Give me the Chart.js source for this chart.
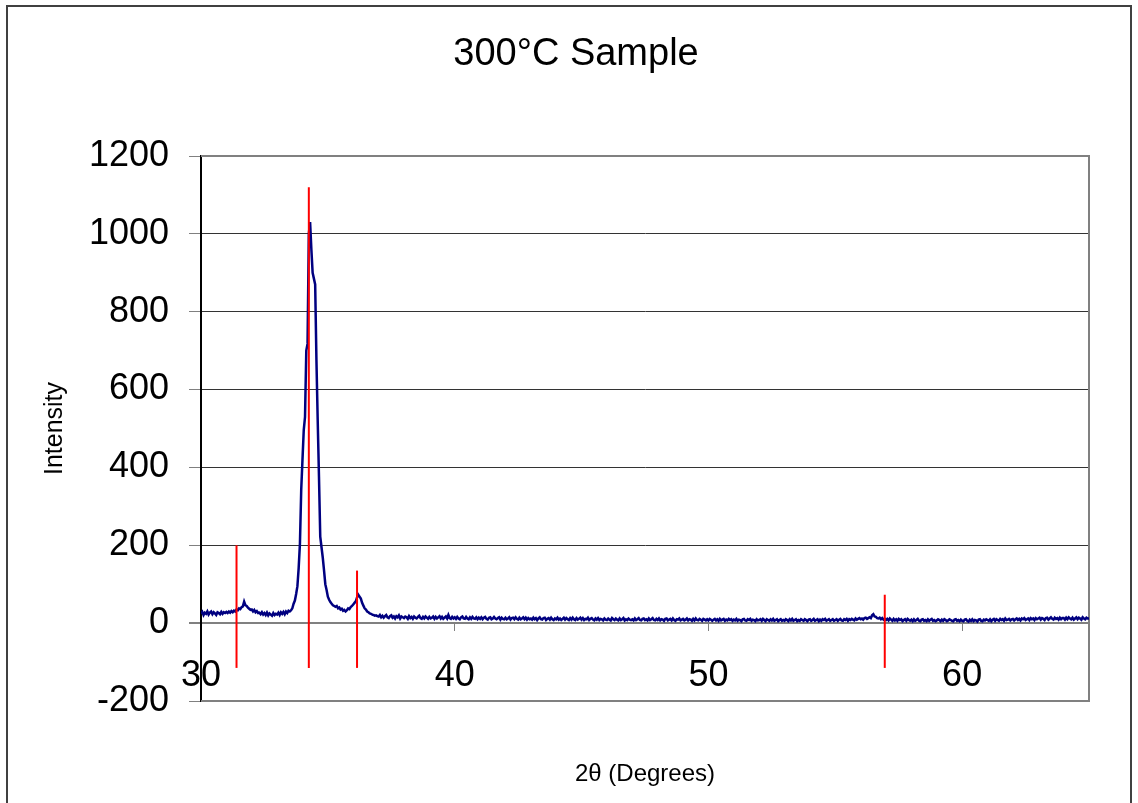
<!DOCTYPE html>
<html>
<head>
<meta charset="utf-8">
<title>300°C Sample</title>
<script src="https://cdn.jsdelivr.net/npm/chart.js@4.4.1/dist/chart.umd.min.js"></script>
<style>
  html, body { margin: 0; padding: 0; background: #fff; }
  #wrap { width: 1138px; height: 803px; }
</style>
</head>
<body>
<div id="wrap"><canvas id="xrd" width="1138" height="803"></canvas></div>
<script>
/* ---------- scan data: counts every 0.05 deg, 30.00 .. 65.00 ---------- */
const scanStart = 30;
const scanStep  = 0.05;
const counts = [
  24,29,21,27,24,30,22,27,30,23,28,25,21,28,26,23,29,24,28,26,            // 30
  29,26,30,27,31,28,32,30,35,33,38,36,41,43,55,46,44,40,37,34,            // 31
  35,30,34,28,31,26,27,23,28,22,26,21,27,20,25,22,19,26,21,24,            // 32
  22,27,21,28,24,29,23,30,26,32,30,33,38,50,58,75,95,142,205,342,         // 33
  420,496,530,700,718,1000,1030,960,900,885,870,675,520,376,222,195,168,135,100,85, // 34
  68,60,54,50,46,44,42,44,38,40,35,37,32,34,30,33,38,36,41,44,            // 35
  48,52,56,66,73,68,63,52,45,38,35,30,28,25,24,22,21,19,20,18,            // 36
  17,21,15,19,14,18,21,15,13,18,20,14,17,12,18,15,20,12,17,15,            // 37
  13,17,15,11,18,13,16,11,17,14,12,16,19,13,11,16,12,17,14,11,            // 38
  16,12,14,17,11,16,12,15,18,12,16,11,14,17,12,21,13,11,16,12,            // 39
  15,11,16,12,10,15,17,12,11,16,12,10,15,11,16,12,11,15,10,14,            // 40
  11,15,10,14,16,11,9,14,15,10,12,16,12,10,13,15,9,14,11,10,              // 41
  14,10,12,15,9,13,14,10,15,11,9,14,10,12,15,10,14,9,13,10,               // 42
  12,9,14,10,13,8,12,15,10,9,13,14,8,11,13,9,14,10,8,12,                  // 43
  10,14,9,12,8,11,14,9,13,10,8,13,9,14,10,8,13,9,11,14,                   // 44
  9,13,8,11,10,14,8,11,13,9,7,12,9,13,8,11,10,7,12,9,                     // 45
  8,12,9,7,13,10,8,12,9,7,12,8,10,13,7,10,8,12,9,8,                       // 46
  10,7,12,8,10,13,8,7,11,12,8,10,7,12,8,10,13,8,7,11,                     // 47
  8,12,7,10,9,6,11,12,7,9,11,7,12,8,6,10,9,12,7,9,                        // 48
  11,7,9,12,7,10,9,6,11,7,12,8,7,11,9,6,11,9,7,10,                        // 49
  7,11,9,6,9,11,7,10,6,11,7,9,11,6,9,7,11,8,10,6,                         // 50
  9,7,11,6,9,8,5,10,11,7,6,10,8,11,6,9,8,5,10,7,                          // 51
  8,10,6,11,8,5,10,8,6,10,7,11,6,8,10,5,8,10,6,8,                         // 52
  6,10,8,5,10,7,11,6,8,10,5,8,6,10,8,6,10,8,5,9,                          // 53
  10,6,8,11,6,8,10,5,9,6,10,8,11,6,8,10,6,8,10,6,                         // 54
  8,10,6,9,11,7,6,10,8,11,6,10,8,11,9,7,12,9,11,13,                       // 55
  10,12,9,13,14,11,13,15,13,20,23,17,16,13,12,14,10,13,9,11,              // 56
  8,11,7,12,9,6,11,7,10,6,11,8,10,5,8,10,6,11,8,6,                        // 57
  9,5,10,6,8,11,6,5,9,10,6,8,5,10,6,9,11,6,8,5,                           // 58
  7,10,8,5,9,6,10,8,5,7,10,8,6,5,9,10,6,8,5,9,                            // 59
  6,5,9,10,6,4,9,6,10,5,8,7,4,9,10,6,5,9,7,10,                            // 60
  8,6,10,5,9,11,6,10,8,6,11,8,10,6,12,8,9,11,7,10,                        // 61
  11,7,10,12,8,11,7,12,10,13,8,10,12,8,13,10,12,8,13,10,                  // 62
  12,14,9,13,11,8,13,14,9,12,15,11,9,14,11,13,9,14,10,13,                 // 63
  13,9,14,10,15,12,10,14,9,12,15,10,14,12,9,15,12,10,14,12,               // 64
  12                                                                      // 65
];

/* ---------- reference peak markers ---------- */
const refAngles = [31.4, 34.25, 36.15, 56.95];
const refTops   = [200, 1120, 135, 73];
const refBase   = -115;

/* ---------- axes ---------- */
const xMin = 30, xMax = 65, xStep = 10;
const yMin = -200, yMax = 1200, yStep = 200;

const FONT = "'Liberation Sans', Arial, sans-serif";
const chartTitle = '300°C Sample';

const scanPoints = counts.map((c, i) => ({ x: scanStart + i * scanStep, y: c }));

const refSets = refAngles.map((a, i) => ({
  data: [{ x: a, y: refBase }, { x: a, y: refTops[i] }],
  borderColor: '#ff0000',
  borderWidth: 2,
  pointRadius: 0,
  showLine: true,
  order: 0,
}));

// outer frame of the figure + the title, centred on the frame
const pageFrame = {
  id: 'pageFrame',
  beforeDraw(chart) {
    const { ctx, width, height } = chart;
    ctx.save();
    ctx.fillStyle = '#fff';
    ctx.fillRect(0, 0, width, height);
    ctx.strokeStyle = '#404040';
    ctx.lineWidth = 2;
    ctx.strokeRect(7, 6, 1124, height + 20);
    ctx.fillStyle = '#000';
    ctx.font = `38px ${FONT}`;
    ctx.textAlign = 'center';
    ctx.textBaseline = 'middle';
    ctx.fillText(chartTitle, 576, 55);
    ctx.restore();
  },
};

// grey box round the plot area (left side is the black y axis)
const plotFrame = {
  id: 'plotFrame',
  beforeDatasetsDraw(chart) {
    const { ctx, chartArea: a } = chart;
    ctx.save();
    ctx.strokeStyle = '#808080';
    ctx.lineWidth = 2;
    ctx.beginPath();
    ctx.moveTo(a.left, a.top);
    ctx.lineTo(a.right, a.top);
    ctx.lineTo(a.right, a.bottom);
    ctx.lineTo(a.left, a.bottom);
    ctx.stroke();
    ctx.restore();
  },
};

new Chart(document.getElementById('xrd'), {
  type: 'scatter',
  data: {
    datasets: [
      ...refSets,
      {
        data: scanPoints,
        borderColor: '#000080',
        borderWidth: 2.5,
        pointRadius: 0,
        showLine: true,
        tension: 0,
        order: 1,
      },
    ],
  },
  options: {
    responsive: false,
    devicePixelRatio: 1,
    animation: false,
    events: [],
    layout: { padding: { left: 0, right: 49, top: 156, bottom: 0 } },
    plugins: {
      legend: { display: false },
      tooltip: { enabled: false },
      title: { display: false },
    },
    scales: {
      x: {
        type: 'linear',
        position: { y: 0 },
        min: xMin,
        max: xMax,
        ticks: {
          stepSize: xStep,
          includeBounds: false,
          autoSkip: false,
          maxRotation: 0,
          padding: 24,
          color: '#000',
          font: { family: FONT, size: 36 },
          callback: (v) => String(v),
        },
        grid: { drawOnChartArea: false, drawTicks: true, tickLength: 7, tickColor: '#808080' },
        border: { color: '#808080', width: 2 },
      },
      xTitle: {
        type: 'linear',
        position: 'bottom',
        min: xMin,
        max: xMax,
        ticks: { display: false },
        grid: { display: false, drawTicks: false },
        border: { display: false },
        title: {
          display: true,
          text: '2θ (Degrees)',
          color: '#000',
          font: { family: FONT, size: 24 },
          padding: { top: 60, bottom: 14 },
        },
        afterFit(scale) { scale.height = 102; },
      },
      y: {
        type: 'linear',
        min: yMin,
        max: yMax,
        ticks: {
          stepSize: yStep,
          padding: 20,
          color: '#000',
          font: { family: FONT, size: 36 },
          callback: (v) => String(v),
        },
        grid: {
          color: (c) => (c.tick && c.tick.value === 0 ? '#808080' : '#333'),
          lineWidth: (c) => (c.tick && c.tick.value === 0 ? 2 : 1),
          tickColor: '#808080',
          tickLength: 12,
        },
        border: { color: '#000', width: 2 },
        title: {
          display: true,
          text: 'Intensity',
          color: '#000',
          font: { family: FONT, size: 25 },
          padding: { top: 40, bottom: 0 },
        },
        afterFit(scale) { scale.width = 201; },
      },
    },
  },
  plugins: [pageFrame, plotFrame],
});
</script>
</body>
</html>
